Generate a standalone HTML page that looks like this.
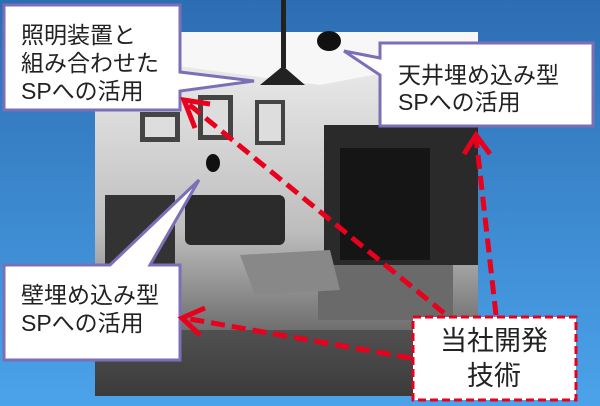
<!DOCTYPE html>
<html><head><meta charset="utf-8"><style>
html,body{margin:0;padding:0;width:600px;height:406px;overflow:hidden;}
text{font-family:"Liberation Sans","Noto Sans CJK JP",sans-serif;}
</style></head><body>
<svg width="600" height="406" viewBox="0 0 600 406" xmlns="http://www.w3.org/2000/svg">
<defs>
<linearGradient id="bg" x1="0" y1="0" x2="0" y2="1"><stop offset="0" stop-color="#2d6db3"/><stop offset="1" stop-color="#4ba3ea"/></linearGradient>
<linearGradient id="room" x1="0" y1="0" x2="0" y2="1"><stop offset="0" stop-color="#f2f2f2"/><stop offset="0.55" stop-color="#bdbdbd"/><stop offset="1" stop-color="#3a3a3a"/></linearGradient>
</defs>
<rect width="600" height="406" fill="url(#bg)"/>
<rect x="95" y="32" width="383" height="364" fill="url(#room)"/>
<polygon points="95,32 478,32 478,55 320,85 95,55" fill="#f7f7f7"/>
<rect x="324" y="125" width="154" height="140" fill="#2a2a2a"/>
<rect x="340" y="148" width="90" height="112" fill="#151515"/>
<rect x="318" y="265" width="135" height="55" fill="#6a6a6a"/>
<rect x="185" y="195" width="100" height="50" fill="#2b2b2b" rx="6"/>
<rect x="105" y="195" width="70" height="160" fill="#333"/>
<polygon points="240,255 330,250 340,290 255,295" fill="#888"/>
<rect x="140" y="112" width="40" height="30" fill="#444"/><rect x="145" y="117" width="30" height="20" fill="#ddd"/>
<rect x="198" y="95" width="35" height="45" fill="#444"/><rect x="203" y="100" width="25" height="35" fill="#ddd"/>
<rect x="255" y="100" width="30" height="45" fill="#444"/><rect x="259" y="104" width="22" height="37" fill="#ddd"/>
<rect x="95" y="330" width="383" height="66" fill="#3c3c3c" opacity="0.6"/>
<rect x="281" y="0" width="5" height="68" fill="#222"/>
<polygon points="283,66 305,85 260,85" fill="#222"/>
<ellipse cx="329" cy="41" rx="12" ry="10" fill="#111"/>
<ellipse cx="213" cy="163" rx="7" ry="9" fill="#111"/>
<g fill="#fff" stroke="#7b6fb8" stroke-width="3">
<polygon points="4,5 180,5 180,72 254,81 180,91 180,110 4,110"/>
<polygon points="380,43 593,43 593,126 380,126 380,75 344,51 380,58"/>
<polygon points="4,265 110,265 199,180 150,265 180,265 180,360 4,360"/>
</g>
<g font-size="23" fill="#222">
<text x="21" y="43">照明装置と</text><text x="21" y="71">組み合わせた</text><text x="21" y="99">SPへの活用</text>
<text x="398" y="83">天井埋め込み型</text><text x="398" y="110">SPへの活用</text>
<text x="21" y="303">壁埋め込み型</text><text x="21" y="331">SPへの活用</text>
</g>
<rect x="413" y="317" width="163" height="83" fill="#fff" stroke="#e8001c" stroke-width="3" stroke-dasharray="8,4"/>
<text x="494" y="350" font-size="27" fill="#222" text-anchor="middle">当社開発</text>
<text x="494" y="385" font-size="27" fill="#222" text-anchor="middle">技術</text>
<g stroke="#e8001c" stroke-width="5" fill="none" stroke-dasharray="14,7">
<line x1="444" y1="313" x2="186" y2="102"/>
<line x1="411" y1="358" x2="184" y2="318"/>
<line x1="496" y1="315" x2="476" y2="137"/>
</g>
<g stroke="#e8001c" stroke-width="5" fill="none">
<polyline points="195,128 184,100 210,104"/>
<polyline points="205,308 182,318 200,335"/>
<polyline points="464,154 476,135 490,154"/>
</g>
</svg>
</body></html>
